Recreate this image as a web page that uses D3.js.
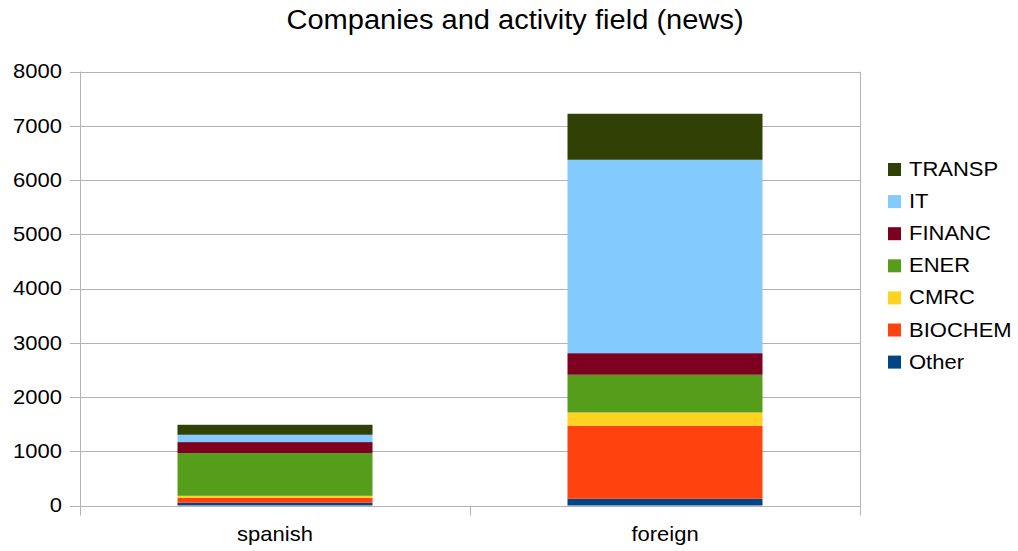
<!DOCTYPE html>
<html>
<head>
<meta charset="utf-8">
<script src="https://cdn.jsdelivr.net/npm/d3@7"></script>
<style>
  html, body { margin: 0; padding: 0; background: #fff; }
  svg { display: block; font-family: "Liberation Sans", Arial, sans-serif; }
</style>
</head>
<body>
<svg id="chart" width="1018" height="551"></svg>
<script>
// Origin of the companies covered in the news
const categories = ["spanish", "foreign"];

// Activity fields, bottom of the stack first
const fields = ["Other", "BIOCHEM", "CMRC", "ENER", "FINANC", "IT", "TRANSP"];

// Number of news items per field, one value per category
const Other   = [50, 124];
const BIOCHEM = [92, 1346];
const CMRC    = [37, 245];
const ENER    = [787, 695];
const FINANC  = [203, 398];
const IT      = [135, 3565];
const TRANSP  = [184, 848];

const fieldColors = ["#004586", "#ff420e", "#ffd320", "#579d1c", "#7e0021", "#83caff", "#314004"];

const yTicks = [0, 1000, 2000, 3000, 4000, 5000, 6000, 7000, 8000];

const seriesValues = { Other, BIOCHEM, CMRC, ENER, FINANC, IT, TRANSP };

const rows = categories.map((c, i) => {
  const r = { category: c };
  fields.forEach(f => { r[f] = seriesValues[f][i]; });
  return r;
});

const svg = d3.select("#chart");
const plot = { left: 80, right: 860, top: 71.5, bottom: 505.5 };
const gridColor = "#b3b3b3";

const x = d3.scaleBand()
  .domain(categories)
  .range([plot.left, plot.right])
  .paddingInner(0.5)
  .paddingOuter(0.25);

const y = d3.scaleLinear()
  .domain([0, 8000])
  .range([plot.bottom, plot.top]);

const color = d3.scaleOrdinal().domain(fields).range(fieldColors);

// Horizontal grid lines
svg.append("g")
  .selectAll("line")
  .data(yTicks)
  .join("line")
  .attr("x1", plot.left - 10)
  .attr("x2", plot.right)
  .attr("y1", d => Math.round(y(d)) + 0.5)
  .attr("y2", d => Math.round(y(d)) + 0.5)
  .attr("stroke", gridColor)
  .attr("stroke-width", 1);

// Stacked bars
const stacked = d3.stack().keys(fields)(rows);
svg.append("g")
  .selectAll("g")
  .data(stacked)
  .join("g")
  .attr("fill", d => color(d.key))
  .selectAll("rect")
  .data(d => d)
  .join("rect")
  .attr("x", d => x(d.data.category))
  .attr("width", x.bandwidth())
  .attr("y", d => y(d[1]))
  .attr("height", d => y(d[0]) - y(d[1]));

// Vertical axis line, right frame line and category separators
const vLines = [plot.left, plot.left + x.step(), plot.right];
svg.append("g")
  .selectAll("line")
  .data(vLines)
  .join("line")
  .attr("x1", d => Math.round(d) + 0.5)
  .attr("x2", d => Math.round(d) + 0.5)
  .attr("y1", (d, i) => i === 1 ? plot.bottom : plot.top)
  .attr("y2", plot.bottom + 10)
  .attr("stroke", gridColor)
  .attr("stroke-width", 1);

// Widen a text element horizontally around its anchor point
function widen(sel, stretch = 1.1) {
  sel.each(function () {
    const t = d3.select(this);
    const x0 = +(t.attr("x") || 0);
    t.attr("x", x0 / stretch).attr("transform", `scale(${stretch},1)`);
  });
}

// Y tick labels
const yAxis = d3.axisLeft(y).tickValues(yTicks).tickFormat(d3.format("d")).tickSize(0).tickPadding(18);
const yG = svg.append("g")
  .attr("transform", `translate(${plot.left},0)`)
  .call(yAxis);
yG.select(".domain").remove();
yG.selectAll("text")
  .attr("font-family", "Liberation Sans, Arial, sans-serif")
  .attr("font-size", 20)
  .attr("fill", "#000")
  .call(widen);

// Category labels
const xAxis = d3.axisBottom(x).tickSize(0).tickPadding(21);
const xG = svg.append("g")
  .attr("transform", `translate(0,${plot.bottom})`)
  .call(xAxis);
xG.select(".domain").remove();
xG.selectAll("text")
  .attr("font-family", "Liberation Sans, Arial, sans-serif")
  .attr("font-size", 20)
  .attr("fill", "#000")
  .call(widen);

// Title
svg.append("g")
  .attr("transform", "translate(515,29)")
  .append("text")
  .attr("x", 0)
  .attr("y", 0)
  .attr("text-anchor", "middle")
  .attr("font-size", 27)
  .attr("fill", "#000")
  .text("Companies and activity field (news)")
  .call(widen, 1.077);

// Legend, top entry is the top of the stack
const legendFields = fields.slice().reverse();
const legend = svg.append("g").attr("transform", "translate(888,169)");
const item = legend.selectAll("g")
  .data(legendFields)
  .join("g")
  .attr("transform", (d, i) => `translate(0,${i * 32.1})`);
item.append("rect")
  .attr("x", 0)
  .attr("y", -6)
  .attr("width", 13)
  .attr("height", 13)
  .attr("fill", d => color(d));
item.append("text")
  .attr("x", 21)
  .attr("y", 0)
  .attr("dy", "0.35em")
  .attr("font-size", 20)
  .attr("fill", "#000")
  .text(d => d)
  .call(widen);
</script>
</body>
</html>
